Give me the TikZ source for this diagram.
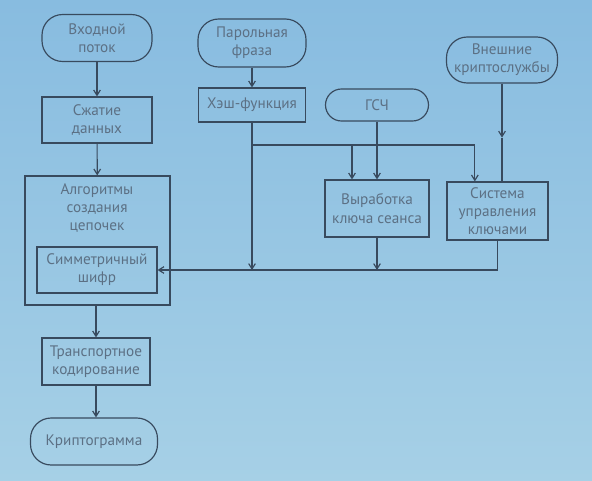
\documentclass[tikz,border=0pt]{standalone}
\usepackage{fontspec}
\setmainfont{PT Sans}
\usetikzlibrary{positioning,arrows.meta}
\definecolor{bgtop}{RGB}{136,188,224}
\definecolor{bgbot}{RGB}{166,208,230}
\definecolor{ink}{RGB}{56,74,94}
\definecolor{txt}{RGB}{92,112,132}
\begin{document}
\begin{tikzpicture}[
  x=0.03cm, y=-0.03cm,
  font=\fontsize{13}{15.5}\selectfont,
  box/.style={draw=ink, line width=1pt, text=txt, align=center, inner sep=1pt},
  term/.style={box, rounded corners=0.62cm},
  arrow/.style={-{Straight Barb[length=1.6mm,width=2mm]}, draw=ink, line width=1pt},
  link/.style={draw=ink, line width=1pt}
]
\shade[top color=bgtop, bottom color=bgbot] (0,0) rectangle (592,481);
\useasboundingbox (0,0) rectangle (592,481);
% left column
\node[term, minimum width=3.3cm, minimum height=1.41cm] (input) at (97,38) {Входной\\поток};
\node[box, minimum width=3.3cm, minimum height=1.38cm] (compress) at (97,120) {Сжатие\\данных};
\node[box, minimum width=4.35cm, minimum height=3.87cm] (algo) at (97.5,240.5) {};
\node[text=txt, align=center] (algotext) at (97,208) {Алгоритмы\\создания\\цепочек};
\node[box, minimum width=3.6cm, minimum height=1.38cm] (cipher) at (97,270) {Симметричный\\шифр};
\node[box, minimum width=3.24cm, minimum height=1.41cm] (transport) at (96,361.5) {Транспортное\\кодирование};
\node[term, minimum width=3.81cm, minimum height=1.41cm] (crypto) at (94,441.5) {Криптограмма};
% key sources
\node[term, minimum width=3.24cm, minimum height=1.44cm] (pass) at (252,43) {Парольная\\фраза};
\node[box, minimum width=3.21cm, minimum height=1.02cm] (hash) at (252,105) {Хэш-функция};
\node[term, rounded corners=0.48cm, minimum width=3.09cm, minimum height=0.96cm] (rng) at (377,105) {ГСЧ};
\node[box, minimum width=3.12cm, minimum height=1.71cm] (session) at (377,208.5) {Выработка\\ключа сеанса};
\node[box, minimum width=3.03cm, minimum height=1.74cm] (keys) at (497.5,211) {Система\\управления\\ключами};
\node[term, minimum width=3.33cm, minimum height=1.38cm] (ext) at (502,60) {Внешние\\криптослужбы};
% junctions
\coordinate (hsplit) at (252,145);
\coordinate (hjoin) at (252,270);
\coordinate (sbranch) at (352,145);
\path (ext.south) ++(0,54) coordinate (extmid);
% connectors
\draw[arrow] (input) -- (compress);
\draw[arrow] (compress) -- (algo);
\draw[arrow] (algo.south -| transport) -- (transport);
\draw[arrow] (transport) -- (transport |- crypto.north);
\draw[arrow] (pass) -- (hash);
\draw[arrow] (hash) -- (hjoin);
\draw[arrow] (hsplit) -| ([xshift=-0.68cm]keys.north);
\draw[arrow] (sbranch) -- (sbranch |- session.north);
\draw[arrow] (rng) -- (session);
\draw[arrow] (session) -- (session |- cipher);
\draw[arrow] (keys.south) |- (cipher.east);
\draw[arrow] (ext) -- (extmid);
\draw[link] (extmid) -- (extmid |- keys.north);
\end{tikzpicture}
\end{document}
